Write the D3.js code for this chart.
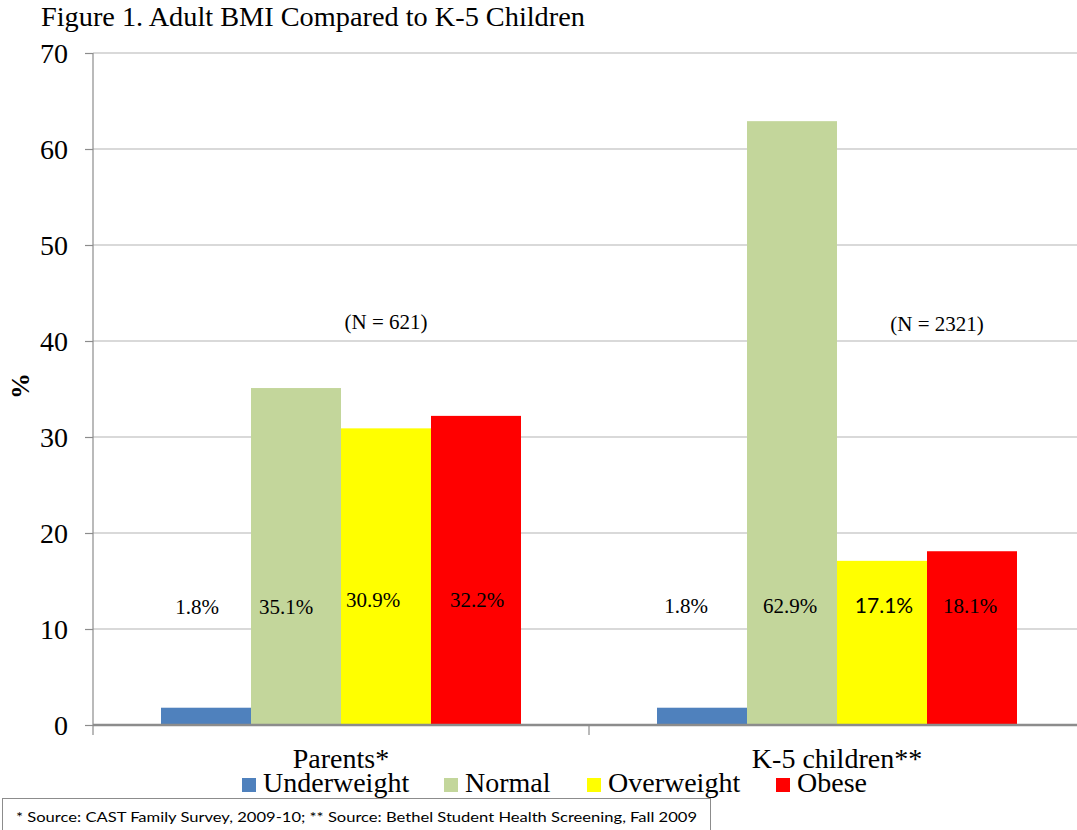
<!DOCTYPE html>
<html>
<head>
<meta charset="utf-8">
<script src="https://cdn.jsdelivr.net/npm/d3@7"></script>
<style>
  html, body { margin: 0; padding: 0; background: #fff; }
  svg { display: block; }
</style>
</head>
<body>
<svg id="chart" width="1077" height="830" font-family="'Liberation Serif', 'Times New Roman', serif"></svg>
<script>
// Groups and BMI categories
const groups = ["Parents*", "K-5 children**"];
const sampleSizes = ["(N = 621)", "(N = 2321)"];
const bmiClasses = ["Underweight", "Normal", "Overweight", "Obese"];
const classColors = ["#4F81BD", "#C3D69B", "#FFFF00", "#FF0000"];

// Percent in each BMI category, one array per group
const parentsPct = [1.8, 35.1, 30.9, 32.2];
const childrenPct = [1.8, 62.9, 17.1, 18.1];

const yTicks = [0, 10, 20, 30, 40, 50, 60, 70];
const footnote = "* Source: CAST Family Survey, 2009-10; ** Source: Bethel Student Health Screening, Fall 2009";

const seriesByGroup = [parentsPct, childrenPct];
const SERIF = "'Liberation Serif', 'Times New Roman', serif";
const SANS = "Lato, 'Open Sans', sans-serif";

const svg = d3.select("#chart");
const plot = { left: 93, right: 1085, top: 53, bottom: 725 };

// Outer band per group, inner band per BMI class (4 bars centred in each group)
const x0 = d3.scaleBand().domain(groups).range([plot.left, plot.right]);
const x1 = d3.scaleBand().domain(bmiClasses).range([68, x0.bandwidth() - 68]);
const y = d3.scaleLinear().domain([0, 70]).range([plot.bottom, plot.top]);

// Title
svg.append("text")
  .attr("x", 41).attr("y", 26)
  .style("font-family", SERIF)
  .style("font-size", "28.3px")
  .text("Figure 1. Adult BMI Compared to K-5 Children");

// Horizontal gridlines
svg.append("g")
  .selectAll("line")
  .data(yTicks.filter(t => t > 0))
  .join("line")
  .attr("x1", plot.left).attr("x2", plot.right)
  .attr("y1", d => y(d)).attr("y2", d => y(d))
  .attr("stroke", "#b3b3b3").attr("stroke-width", 1.2);

// Y axis
const yAxis = svg.append("g")
  .attr("transform", `translate(${plot.left},0)`)
  .call(d3.axisLeft(y).tickValues(yTicks).tickSize(8).tickPadding(17));
yAxis.select(".domain").attr("stroke", "#8c8c8c").attr("stroke-width", 1.2)
  .attr("d", `M0,${plot.top}V${plot.bottom}`);
yAxis.selectAll(".tick line").attr("stroke", "#8c8c8c").attr("stroke-width", 1.2);
yAxis.selectAll(".tick text")
  .style("font-family", SERIF)
  .style("font-size", "28px").attr("fill", "#000").attr("dy", "0.35em");

// Y axis title
svg.append("text")
  .attr("transform", "translate(29,386) rotate(-90)")
  .attr("text-anchor", "middle")
  .style("font-family", SERIF)
  .style("font-size", "26px").style("font-weight", "bold")
  .text("%");

// Bars
const barG = svg.append("g");
groups.forEach((g, gi) => {
  barG.append("g")
    .attr("transform", `translate(${x0(g)},0)`)
    .selectAll("rect")
    .data(seriesByGroup[gi].map((v, i) => ({ v, cls: bmiClasses[i], color: classColors[i] })))
    .join("rect")
    .attr("x", d => x1(d.cls))
    .attr("width", x1.bandwidth())
    .attr("y", d => y(d.v))
    .attr("height", d => y(0) - y(d.v))
    .attr("fill", d => d.color);
});

// X axis (category axis with boundary ticks)
const xAxisG = svg.append("g");
xAxisG.append("line")
  .attr("x1", plot.left).attr("x2", plot.right)
  .attr("y1", y(0)).attr("y2", y(0))
  .attr("stroke", "#8c8c8c").attr("stroke-width", 2.5);
xAxisG.selectAll(".sep")
  .data([plot.left, x0(groups[1]), plot.right])
  .join("line")
  .attr("x1", d => d).attr("x2", d => d)
  .attr("y1", y(0)).attr("y2", y(0) + 10)
  .attr("stroke", "#8c8c8c").attr("stroke-width", 1.2);
xAxisG.selectAll(".cat")
  .data(groups)
  .join("text")
  .attr("x", d => x0(d) + x0.bandwidth() / 2)
  .attr("y", 768)
  .attr("text-anchor", "middle")
  .style("font-family", SERIF)
  .style("font-size", "28px")
  .text(d => d);

// Value labels
const labelDx = [[-9, -10, -13, 1], [-16, -2, 2, -2]];
const labelY = [[614, 614, 607, 607], [613, 613, 613, 613]];
groups.forEach((g, gi) => {
  svg.append("g")
    .selectAll("text")
    .data(seriesByGroup[gi])
    .join("text")
    .attr("x", (d, i) => x0(g) + x1(bmiClasses[i]) + x1.bandwidth() / 2 + labelDx[gi][i])
    .attr("y", (d, i) => labelY[gi][i])
    .attr("text-anchor", "middle")
    .style("font-family", (d, i) => (gi === 1 && i === 2) ? SANS : SERIF)
    .style("font-size", "21px")
    .text(d => d.toFixed(1) + "%");
});

// Sample sizes
svg.append("g")
  .selectAll("text")
  .data(sampleSizes)
  .join("text")
  .attr("x", (d, i) => x0(groups[i]) + x0.bandwidth() / 2 + [45, 100][i])
  .attr("y", (d, i) => [329, 331][i])
  .attr("text-anchor", "middle")
  .style("font-family", SERIF)
  .style("font-size", "21px")
  .text(d => d);

// Legend
const legendX = [242, 444, 587, 776];
const legend = svg.append("g");
bmiClasses.forEach((c, i) => {
  legend.append("rect")
    .attr("x", legendX[i]).attr("y", 778)
    .attr("width", 14).attr("height", 14)
    .attr("fill", classColors[i]);
  legend.append("text")
    .attr("x", legendX[i] + 21).attr("y", 792)
    .style("font-family", SERIF)
    .style("font-size", "28px")
    .text(c);
});

// Source footnote box
svg.append("rect")
  .attr("x", 2.5).attr("y", 798.5)
  .attr("width", 708).attr("height", 40)
  .attr("fill", "#fff").attr("stroke", "#8c8c8c").attr("stroke-width", 1);
svg.append("text")
  .attr("x", 16).attr("y", 822)
  .style("font-family", SANS)
  .style("font-size", "14px")
  .attr("textLength", 681).attr("lengthAdjust", "spacingAndGlyphs")
  .text(footnote);
</script>
</body>
</html>
